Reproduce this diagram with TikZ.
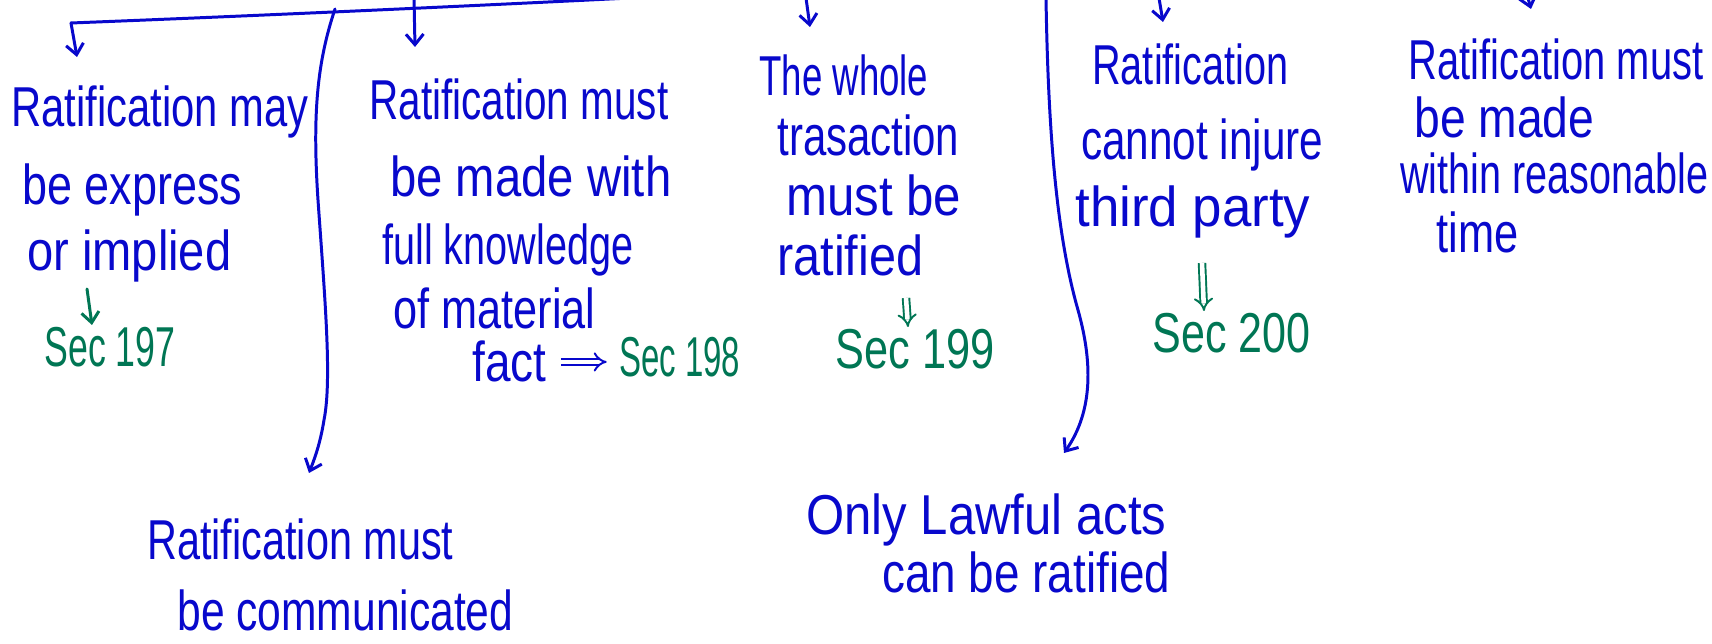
\documentclass[tikz,border=0pt]{standalone}
\usepackage{fontspec}
\setmainfont{Liberation Sans}
\usetikzlibrary{arrows.meta}
\definecolor{ink}{RGB}{8,8,204}
\definecolor{gink}{RGB}{0,118,84}
\newlength\pxu \setlength\pxu{0.02cm}
\newcommand\hw[2]{\resizebox{#1\pxu}{\height}{#2}}
\begin{document}
\begin{tikzpicture}[x=0.02cm, y=-0.02cm,
  txt/.style={inner sep=0pt, anchor=base west, text=ink, font=\fontsize{32}{36}\selectfont},
  gtxt/.style={txt, text=gink},
  ln/.style={draw=ink, line width=1.7pt, line cap=round, line join=round},
  arr/.style={ln, -{Straight Barb[length=6pt,width=10pt]}},
  garr/.style={arr, draw=gink},
  dbl/.style={draw=ink, line width=1.1pt, double=white, double distance=2.6pt, -{Implies}},
  gdbl/.style={dbl, draw=gink}]
\fill[white] (0,0) rectangle (1712,644);
\useasboundingbox (0,0) rectangle (1712,644);

% column 1
\node[txt] (a1) at (11,127) {\hw{297}{Ratification may}};
\node[txt] (a2) at (22,205) {\hw{220}{be express}};
\node[txt] (a3) at (27,271) {\hw{204}{or implied}};
\node[gtxt] (a4) at (44,367) {\hw{131}{Sec 197}};
% column 2
\node[txt] (b1) at (369,120) {\hw{299}{Ratification must}};
\node[txt] (b2) at (390,197) {\hw{281}{be made with}};
\node[txt] (b3) at (382,265) {\hw{251}{full knowledge}};
\node[txt] (b4) at (393,329) {\hw{202}{of material}};
\node[txt] (b5) at (472,382) {\hw{74}{fact}};
\node[gtxt] (b6) at (619,377) {\hw{121}{Sec 198}};
% column 3
\node[txt] (c1) at (759,96) {\hw{169}{The whole}};
\node[txt] (c2) at (777,156) {\hw{182}{trasaction}};
\node[txt] (c3) at (786,216) {\hw{175}{must be}};
\node[txt] (c4) at (777,276) {\hw{146}{ratified}};
\node[gtxt] (c5) at (835,369) {\hw{159}{Sec 199}};
% column 4
\node[txt] (d1) at (1092,85) {\hw{196}{Ratification}};
\node[txt] (d2) at (1081,160) {\hw{242}{cannot injure}};
\node[txt] (d3) at (1075,227) {\hw{235}{third party}};
\node[gtxt] (d4) at (1152,353) {\hw{158}{Sec 200}};
% column 5
\node[txt] (e1) at (1408,80) {\hw{295}{Ratification must}};
\node[txt] (e2) at (1414,138) {\hw{180}{be made}};
\node[txt] (e3) at (1400,194) {\hw{308}{within reasonable}};
\node[txt] (e4) at (1436,253) {\hw{82}{time}};
% bottom
\node[txt] (f1) at (147,560) {\hw{306}{Ratification must}};
\node[txt] (f2) at (177,631) {\hw{336}{be communicated}};
\node[txt] (g1) at (806,535) {\hw{360}{Only Lawful acts}};
\node[txt] (g2) at (882,593) {\hw{288}{can be ratified}};

% connector coordinates
\coordinate (L0) at (71,23);
\coordinate (L1) at (650,-3);
\coordinate (a1in) at (77,57);
\coordinate (T2) at (414,-2);
\coordinate (b1in) at (415,47);
\coordinate (T3) at (335,9);
\coordinate (f1in) at (309,473);
\coordinate (T4) at (806,-2);
\coordinate (c1in) at (810,27);
\coordinate (T5) at (1046,-2);
\coordinate (g1in) at (1064,453);
\coordinate (T6) at (1159,-2);
\coordinate (d1in) at (1163,22);
\coordinate (T7) at (1528,-2);
\coordinate (e1in) at (1531,9);
\coordinate (a3out) at (87,289);
\coordinate (a4in) at (92,325);
\coordinate (c4out) at (906,298);
\coordinate (c5in) at (908,327);
\coordinate (d3out) at (1202,263);
\coordinate (d4in) at (1204,311);

% top line and arrows
\draw[ln] (L0) .. controls (250,16) and (450,7) .. (L1);
\draw[arr] (L0) -- (a1in);
\draw[arr] (T2) -- (b1in);
\draw[arr] (T3) .. controls (318,60) and (312,110) .. (318,200)
  .. controls (325,300) and (332,380) .. (324,420)
  .. controls (320,445) and (314,460) .. (f1in);
\draw[arr] (T4) -- (c1in);
\draw[arr] (T5) .. controls (1048,120) and (1055,230) .. (1078,310)
  .. controls (1092,360) and (1094,410) .. (g1in);
\draw[arr] (T6) -- (d1in);
\draw[arr] (T7) -- (e1in);

% section arrows
\draw[garr] (a3out) -- (a4in);
\draw[dbl, shorten <=8pt, shorten >=7pt] (b5.east) -- (b6.west |- b5.east);
\draw[gdbl] (c4out) -- (c5in);
\draw[gdbl] (d3out) -- (d4in);
\end{tikzpicture}
\end{document}
